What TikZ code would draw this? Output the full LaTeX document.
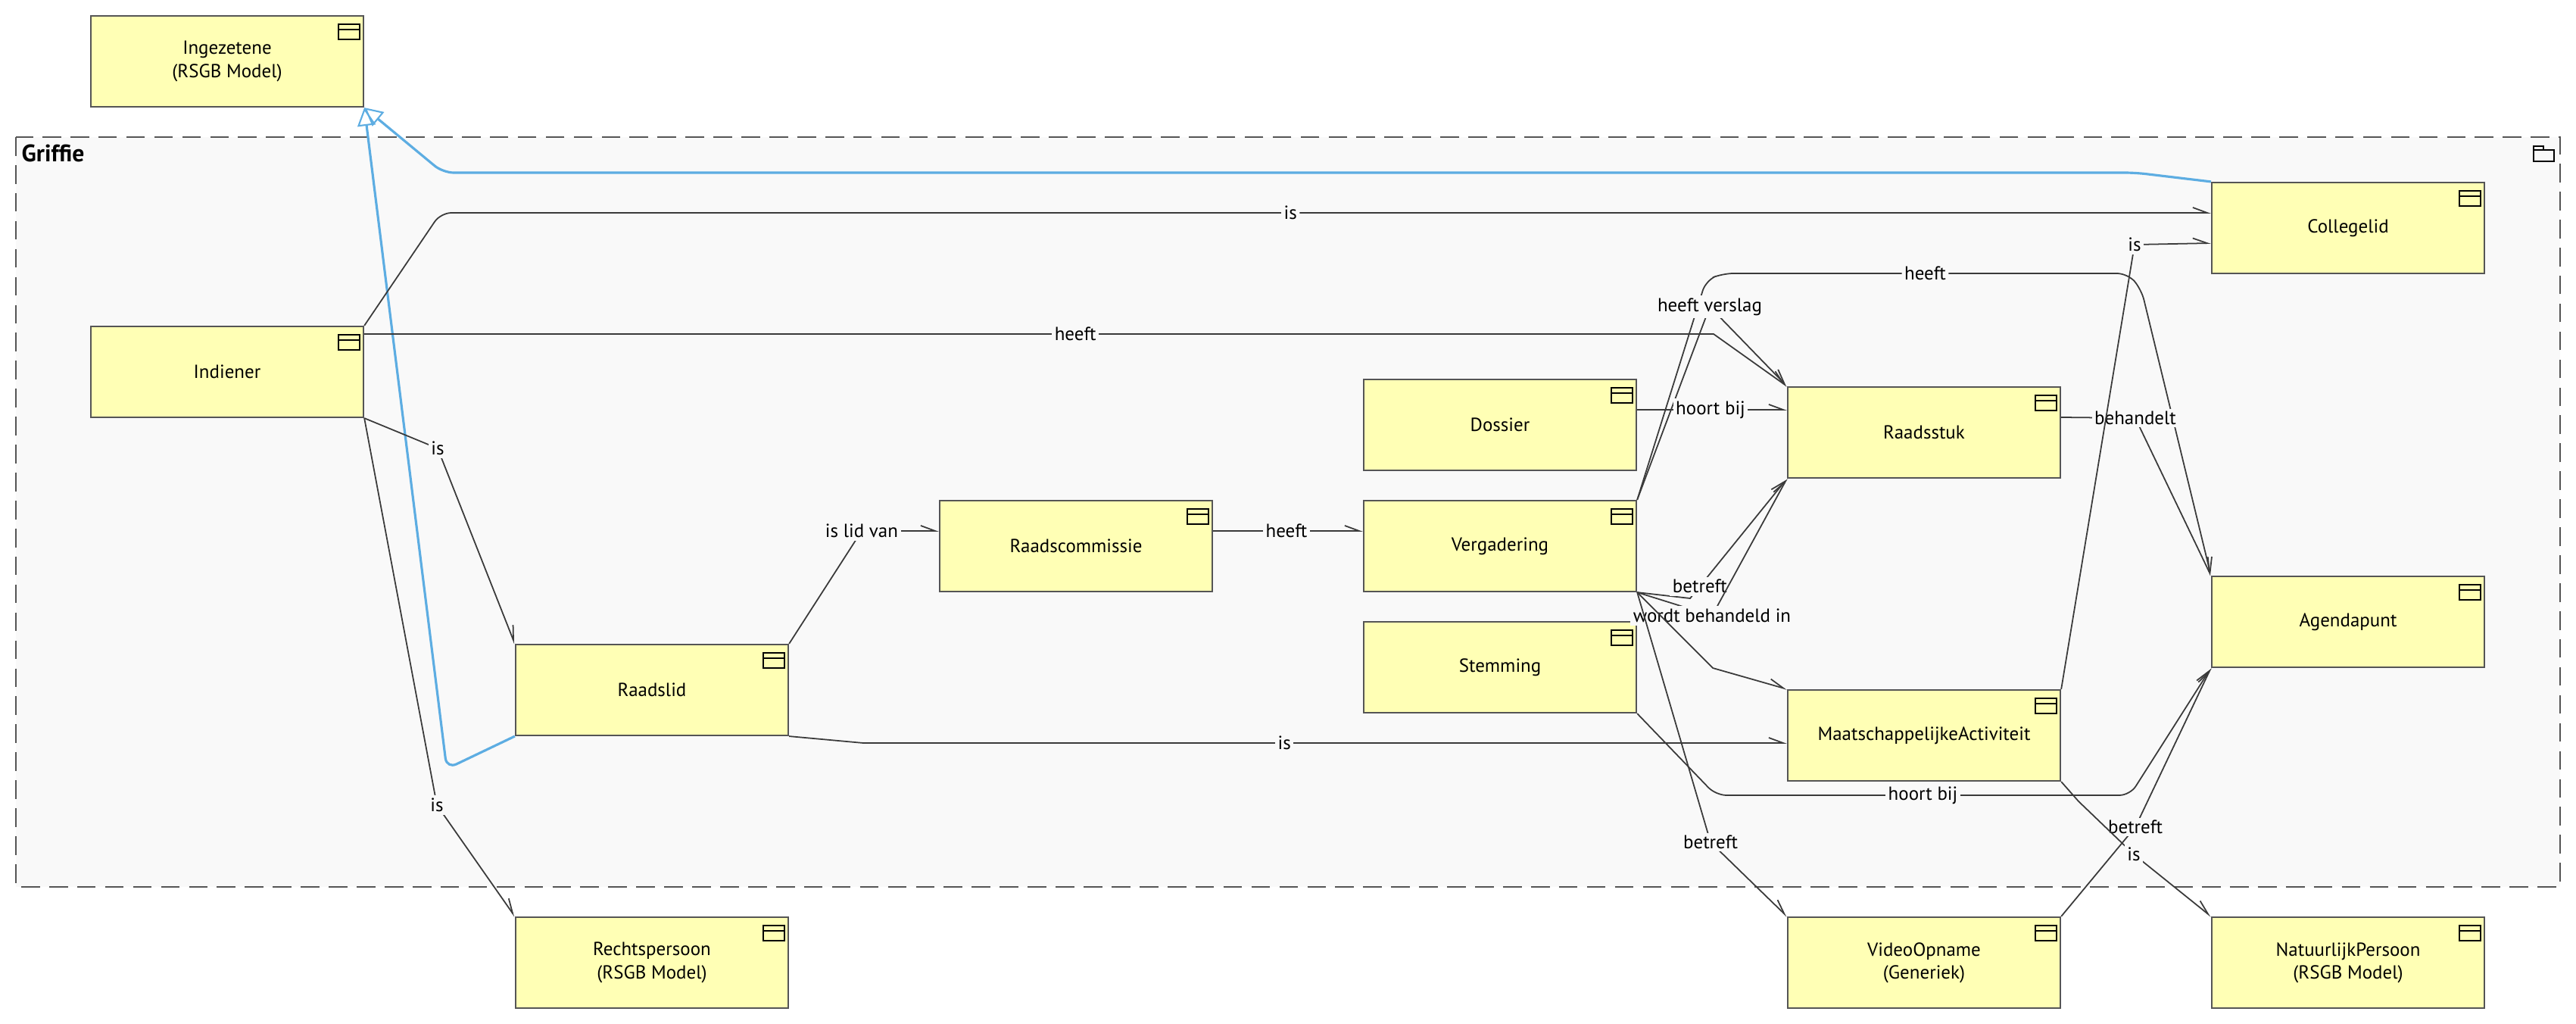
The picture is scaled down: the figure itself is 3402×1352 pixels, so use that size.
\documentclass[tikz,border=0pt]{standalone}
\usepackage{fontspec}
\setmainfont{PT Sans}
\usetikzlibrary{arrows.meta}
\definecolor{geel}{RGB}{255,255,181}
\definecolor{rand}{RGB}{85,85,85}
\definecolor{lijn}{RGB}{58,58,58}
\definecolor{achter}{RGB}{249,249,249}
\definecolor{blauw}{RGB}{93,173,226}
\newcommand{\tekstfont}{\fontsize{7.1}{8.6}\selectfont}

\begin{document}
\begin{tikzpicture}[x=0.01cm,y=-0.01cm]
\tikzset{klasse/.style={draw=rand, fill=geel, line width=0.6pt, minimum width=3.6cm, minimum height=1.2cm, inner sep=0pt, align=center, font=\tekstfont},
  relatie/.style={draw=lijn, line width=0.5pt, -{Straight Barb[harpoon, length=0.19cm, width=0.14cm]}},
  naam/.style={fill=achter, inner sep=1pt, font=\tekstfont},
  spec/.style={draw=blauw, line width=0.9pt, rounded corners=4pt, -{Triangle[open, length=0.24cm, width=0.24cm, line width=0.6pt]}}}
\useasboundingbox (0,0) rectangle (3402,1352);
\fill[white] (0,0) rectangle (3402,1352);
% pakket Griffie
\draw[rand, fill=achter, line width=0.6pt, dash pattern=on 7pt off 3.5pt] (21,181) rectangle (3381,1171);
\node[anchor=north west, inner sep=0pt, font=\bfseries\fontsize{9}{10}\selectfont] (griffie) at (28,190) {Griffie};
\draw[line width=0.6pt] (3346,213) -- (3346,193) -- (3359,193) -- (3359,198) -- (3373,198) -- (3373,213) -- cycle
  (3346,198) -- (3359,198);
% klassen
\node[klasse] (inge) at (300,81) {Ingezetene\\(RSGB Model)};
\node[klasse] (indi) at (300,491) {Indiener};
\node[klasse] (lid) at (861,911) {Raadslid};
\node[klasse] (comm) at (1421,721) {Raadscommissie};
\node[klasse] (doss) at (1981,561) {Dossier};
\node[klasse] (verg) at (1981,721) {Vergadering};
\node[klasse] (stem) at (1981,881) {Stemming};
\node[klasse] (stuk) at (2541,571) {Raadsstuk};
\node[klasse] (ma) at (2541,971) {MaatschappelijkeActiviteit};
\node[klasse] (coll) at (3101,301) {Collegelid};
\node[klasse] (agen) at (3101,821) {Agendapunt};
\node[klasse] (rech) at (861,1271) {Rechtspersoon\\(RSGB Model)};
\node[klasse] (video) at (2541,1271) {VideoOpname\\(Generiek)};
\node[klasse] (natp) at (3101,1271) {NatuurlijkPersoon\\(RSGB Model)};
\foreach \n in {inge,indi,lid,comm,doss,verg,stem,stuk,ma,coll,agen,rech,video,natp}
  \draw[line width=0.6pt] ([xshift=-0.34cm,yshift=-0.12cm]\n.north east) rectangle ([xshift=-0.06cm,yshift=-0.32cm]\n.north east)
    ([xshift=-0.34cm,yshift=-0.19cm]\n.north east) -- ([xshift=-0.06cm,yshift=-0.19cm]\n.north east);
% specialisaties
\draw[spec] (lid.south west) -- (590,1015) -- (inge.south east);
\draw[spec] (coll.north west) -- (2820,228) -- (585,228) -- (inge.south east);
% associaties
\draw[relatie, rounded corners=4pt] (indi.north east) -- (582,281) -- ([yshift=0.2cm]coll.west) node[naam, pos=0.48] {is};
\draw[relatie] ([yshift=0.5cm]indi.east) -- (2263,441) node[naam, pos=0.527] {heeft} -- (stuk.north west);
\draw[relatie, rounded corners=4pt] (verg.north east) -- (2253,370) -- (2275,361) -- (2810,361) node[naam, pos=0.5] {heeft} -- (2828,382) -- (agen.north west);
\draw[relatie] (verg.north east) -- (2258,405) node[naam] {heeft verslag} -- (stuk.north west);
\draw[relatie] ([yshift=0.2cm]doss.east) -- ([yshift=0.3cm]stuk.west) node[naam, pos=0.49] {hoort bij};
\draw[relatie] ([yshift=0.2cm]stuk.east) -- (2820,552) node[naam] {behandelt} -- (agen.north west);
\draw[relatie] (ma.north east) -- (2819,323) node[naam] {is} -- ([yshift=-0.2cm]coll.west);
\draw[relatie] ([yshift=0.2cm]comm.east) -- ([yshift=0.2cm]verg.west) node[naam, pos=0.49] {heeft};
\draw[relatie] (lid.north east) -- (1138,701) node[naam] {is lid van} -- ([yshift=0.2cm]comm.west);
\draw[relatie] (lid.south east) -- (1140,981) -- ([yshift=-0.1cm]ma.west) node[naam, pos=0.456] {is};
\draw[relatie] (indi.south east) -- (578,592) node[naam] {is} -- (lid.north west);
\draw[relatie] (indi.south east) -- (577,1063) node[naam] {is} -- (rech.north west);
\draw[relatie] (verg.south east) -- (2232,790) -- (stuk.south west) node[naam, pos=0.1] {betreft};
\draw[relatie] (verg.south east) -- (2261,813) node[naam] {wordt behandeld in} -- (stuk.south west);
\draw[relatie] (verg.south east) -- (2262,882) -- (ma.north west);
\draw[relatie] (verg.south east) -- (2259,1112) node[naam] {betreft} -- (video.north west);
\draw[relatie, rounded corners=4pt] (stem.south east) -- (2266,1050) -- (2813,1050) node[naam, pos=0.5] {hoort bij} -- (agen.south west);
\draw[relatie] (video.north east) -- (2820,1092) node[naam] {betreft} -- (agen.south west);
\draw[relatie] (ma.south east) -- (2745,1058) -- (2818,1128) node[naam] {is} -- (natp.north west);
\end{tikzpicture}
\end{document}
